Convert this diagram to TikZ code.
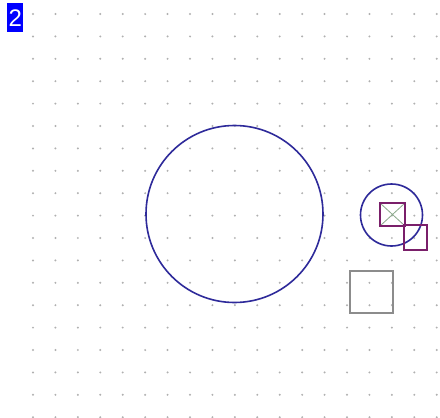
\documentclass[tikz,border=0pt]{standalone}
\usepackage{fontspec}
\setmainfont{Liberation Sans}
\definecolor{ringblue}{HTML}{2E2A9A}
\definecolor{boxpurple}{HTML}{7A1F6A}
\definecolor{crossgreen}{HTML}{8AA88A}
\definecolor{boxgray}{HTML}{8C8C8C}
\definecolor{dotgray}{HTML}{B0B0B0}
\begin{document}
\begin{tikzpicture}[x=1pt, y=-1pt,
    ring/.style={draw=ringblue, line width=1.6pt},
    mark box/.style={draw=boxpurple, line width=1.6pt},
    grey box/.style={draw=boxgray, line width=1.8pt},
    griddot/.style={fill=dotgray},
    tag/.style={fill=blue, text=white, inner sep=0pt,
                minimum width=16pt, minimum height=29pt,
                font=\fontsize{24}{24}\selectfont}
]
  % canvas
  \useasboundingbox (0,0) rectangle (440,418);
  \fill[white] (0,0) rectangle (440,418);

  % dot grid
  \foreach \i in {0,...,18}
    \foreach \j in {0,...,18}
      \fill[griddot] ({33+22.43*\i},{14+22.4*\j}) circle (1.1pt);

  % page tag
  \node[tag, anchor=north west] (tag) at (7,3) {2};

  % large ring
  \draw[ring] (234.5,214) circle (88.5pt);

  % small ring with markers
  \draw[ring] (391.5,215) circle (31pt);
  \draw[crossgreen, line width=0.8pt] (380,203) -- (405,226)
                                      (405,203) -- (380,226);
  \draw[mark box] (380,203) rectangle (405,226);
  \draw[mark box] (404,225) rectangle (427,250);

  % grey square
  \draw[grey box] (350,271) rectangle (393,313);
\end{tikzpicture}
\end{document}
